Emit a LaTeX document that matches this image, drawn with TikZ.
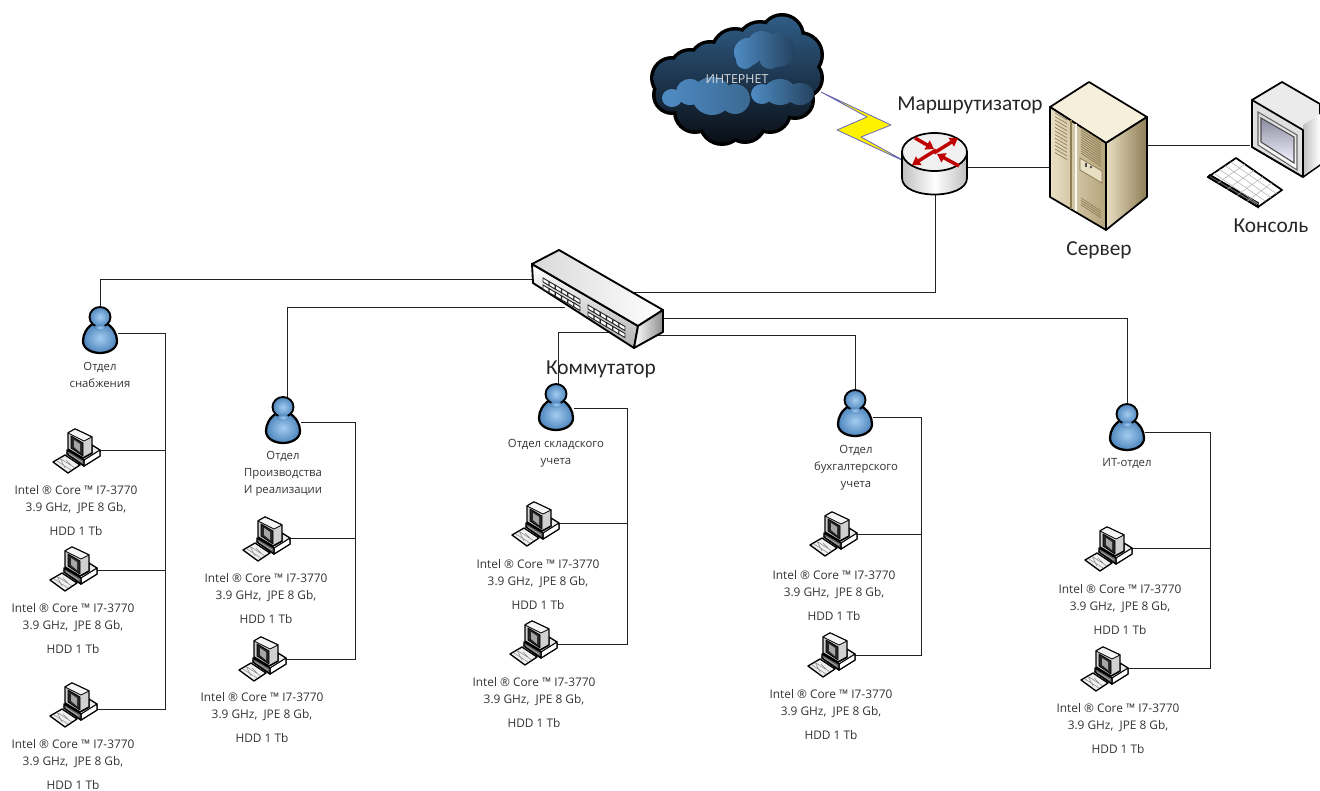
\documentclass[tikz,border=0pt]{standalone}
\usepackage{fontspec}
\setmainfont{Open Sans}
\newfontfamily\bigfont{Carlito}
\usetikzlibrary{arrows.meta}
\definecolor{wire}{HTML}{222222}
\definecolor{txt}{HTML}{333333}
\definecolor{cream}{HTML}{F6EFDC}
\definecolor{tan1}{HTML}{E9DFC3}
\definecolor{tan2}{HTML}{B5A47C}
\definecolor{tan3}{HTML}{8E7D55}
\definecolor{blobhi}{HTML}{4F8CC4}
\definecolor{blobdk}{HTML}{24425F}
\definecolor{cloudtop}{HTML}{2F5C85}
\definecolor{clouddk}{HTML}{0A0F16}
\definecolor{personhi}{HTML}{A3CCF0}
\definecolor{personlo}{HTML}{4F86BD}
\tikzset{
  x=0.75pt,y=-0.75pt,
  wireline/.style={draw=wire,line width=0.65pt},
  anchorbox/.style={inner sep=0pt,minimum width=#1*0.75pt,minimum height=10pt},
  spec/.style={font=\fontsize{8.9}{12.6}\selectfont,text=txt,align=center,anchor=north,inner sep=0pt},
  dept/.style={font=\fontsize{8.5}{12.75}\selectfont,text=txt,align=center,anchor=north,inner sep=0pt},
  biglabel/.style={font=\bigfont\fontsize{16}{18}\selectfont,text=black!85,inner sep=0pt},
  outl/.style={draw=black,line join=round},
  redarrow/.style={draw=red!75!black,line width=2.6pt,-{Triangle[length=6pt,width=7.5pt]}},
  pics/pcicon/.style={code={
    \path[outl,line width=1pt,fill=black!8] (14,24)--(31,36)--(47,26)--(47,20)--(39,15)--(39,23)--(30,28)--(15,20)--cycle;
    \path[outl,line width=.8pt,fill=white] (31,30)--(47,20)--(47,26)--(31,36)--cycle;
    \path[outl,line width=1pt,fill=black!60] (14,20)--(31,30)--(31,36)--(14,24)--cycle;
    \draw[white!70!black,line width=.5pt] (16,24)--(29,32);
    \path[outl,line width=1.1pt,fill=black!18] (15,3)--(22,-1)--(39,7)--(39,23)--(30,28)--(15,19)--cycle;
    \path[outl,line width=.6pt,fill=black!4] (22,-1)--(39,7)--(31,11)--(15,3)--cycle;
    \path[outl,line width=.6pt,fill=black!85] (18,6)--(30,13)--(30,26)--(18,18)--cycle;
    \fill[black!35] (21,10)--(27,14)--(27,22)--(21,17)--cycle;
    \path[outl,line width=1pt,fill=black!6] (0,32)--(12,25)--(27,35)--(15,43)--cycle;
    \draw[black!45,line width=.4pt] (4,31)--(18,40) (8,29)--(22,38) (7,28)--(12,38) (13,30)--(18,35);
  }},
  pics/personicon/.style={code={
    \path[draw=black,line width=1.7pt,inner color=personhi,outer color=personlo,line join=round] (-6,16) .. controls (-13,20) and (-17,27) .. (-17,34) .. controls (-17,42) and (-8,46) .. (0,46) .. controls (8,46) and (17,42) .. (17,34) .. controls (17,27) and (13,20) .. (6,16) -- cycle;
    \path[draw=black,line width=1.4pt,inner color=personhi,outer color=personlo] (0,10) ellipse [x radius=10.5,y radius=10];
    \path[inner color=personhi,outer color=personlo] (0,20.5) ellipse [x radius=6,y radius=3];
  }}
}
\newcommand{\pcunit}[6]{% name, left, top, line y, text x, text y
  \node[anchorbox=45] (#1) at (#2+24,#4) {};
  \pic at (#2,#3) {pcicon};
  \node[spec] (#1t) at (#5,#6-5) {Intel ® Core ™ I7-3770\\3.9 GHz,\ \ JPE 8 Gb,\\[5.5pt]HDD 1 Tb};
}
\newcommand{\cloudlist}{672/78/22,690/70/22,710/62/22,735/52/25,760/45/25,782/36/23,800/55/24,803/78/21,795/100/20,770/112/22,745/122/22,722/122/24,695/112/22,672/95/20,740/85/40,772/75/30}
\begin{document}
\begin{tikzpicture}
\useasboundingbox (0,0) rectangle (1320,791);
% ---- anchor nodes
\node[inner sep=0,minimum width=48.75pt,minimum height=45pt] (router) at (935,165) {};
\node[inner sep=0,minimum width=97.5pt,minimum height=60pt] (switch) at (598,299) {};
\node[inner sep=0,minimum width=73.5pt,minimum height=60pt] (server) at (1099,145) {};
\node[inner sep=0,minimum width=10pt,minimum height=10pt] (console) at (1257,145) {};
\foreach \n/\x/\y in {p1/100/330,p2/283/420,p3/556/407,p4/855/413,p5/1127/427}
  \node[inner sep=0,minimum width=26.25pt,minimum height=34.5pt] (\n) at (\x,\y) {};
\coordinate (sw1) at (532,279);
\coordinate (sw2) at (565,307);
\coordinate (sw3) at (610,332);
\coordinate (sw4) at (650,335);
\coordinate (sw5) at (650,318);
\coordinate (sw6) at (630,292);
\coordinate (b1) at (165,333);
\coordinate (b2) at (355,422);
\coordinate (b3) at (627,408);
\coordinate (b4) at (921,417);
\coordinate (b5) at (1210,432);
% ---- connectors (behind icons)
\draw[wireline] (sw1) -| (p1.north);
\draw[wireline] (sw2) -| (287,400);
\draw[wireline] (sw3) -| (558,385);
\draw[wireline] (sw4) -| (p4.north);
\draw[wireline] (sw5) -| (p5.north);
\draw[wireline] (sw6) -| (router.south);
\draw[wireline] (router.east |- 0,167) -- (server.west |- 0,167);
\draw[wireline] (server.east |- 0,145) -- (console);
% ---- department wiring (behind icons)
\foreach \n/\x/\y in {a1/77/450,a2/74/570,a3/74/709,c1/267/538,c2/263/659,d1/536/523,d2/534/644,e1/834/534,e2/832/655,f1/1109/548,f2/1105/668}
  \node[anchorbox=45] (\n) at (\x,\y) {};
\draw[wireline] (p1.east |- b1) -- (b1) -- (b1 |- a3.east) -- (a3.east);
\draw[wireline] (a1.east) -- (b1 |- a1.east);
\draw[wireline] (a2.east) -- (b1 |- a2.east);
\draw[wireline] (p2.east |- b2) -- (b2) -- (b2 |- c2.east) -- (c2.east);
\draw[wireline] (c1.east) -- (b2 |- c1.east);
\draw[wireline] (p3.east |- b3) -- (b3) -- (b3 |- d2.east) -- (d2.east);
\draw[wireline] (d1.east) -- (b3 |- d1.east);
\draw[wireline] (p4.east |- b4) -- (b4) -- (b4 |- e2.east) -- (e2.east);
\draw[wireline] (e1.east) -- (b4 |- e1.east);
\draw[wireline] (p5.east |- b5) -- (b5) -- (b5 |- f2.east) -- (f2.east);
\draw[wireline] (f1.east) -- (b5 |- f1.east);
% ---- computers + texts
\pcunit{a1t}{53}{430}{450}{76}{490}
\pcunit{a2t}{50}{548}{570}{73}{608}
\pcunit{a3t}{50}{684}{709}{73}{744}
\pcunit{c1t}{243}{518}{538}{266}{578}
\pcunit{c2t}{239}{638}{659}{262}{697}
\pcunit{d1t}{512}{503}{523}{538}{564}
\pcunit{d2t}{510}{622}{644}{534}{682}
\pcunit{e1t}{810}{513}{534}{834}{575}
\pcunit{e2t}{808}{634}{655}{831}{694}
\pcunit{f1t}{1085}{528}{548}{1120}{589}
\pcunit{f2t}{1081}{648}{668}{1118}{708}
% ---- people
\pic at (100,307) {personicon};
\pic at (283,397) {personicon};
\pic at (556,384) {personicon};
\pic at (855,390) {personicon};
\pic at (1127,404) {personicon};
\node[dept] (l1) at (100,362) {Отдел\\снабжения};
\node[dept] (l2) at (283,451) {Отдел\\Производства\\И реализации};
\node[dept] (l3) at (556,439) {Отдел складского\\учета};
\node[dept] (l4) at (856,445) {Отдел\\бухгалтерского\\учета};
\node[dept] (l5) at (1127,458) {ИТ-отдел};
% ---- switch
\path[outl,line width=1.4pt,top color=white,bottom color=black!30] (532,264)--(638,326)--(634,348)--(533,283)--cycle;
\path[outl,line width=1.4pt,left color=black!15,right color=white] (559,250)--(663,310)--(638,326)--(532,264)--cycle;
\path[outl,line width=1.4pt,left color=white,right color=black!45] (638,326)--(663,310)--(663,332)--(634,348)--cycle;
\foreach \i in {0,...,5}{
  \foreach \j in {0,1}{
    \path[draw=black!85,fill=white,line width=.7pt,shift={(546+\i*6.2,280+\i*3.6+\j*7)}] (-3,-2)--(3,1.6)--(3,5.6)--(-3,2)--cycle;
    \path[draw=black!85,fill=white,line width=.7pt,shift={(591+\i*6.2,307+\i*3.6+\j*7)}] (-3,-2)--(3,1.6)--(3,5.6)--(-3,2)--cycle;
  }}
% ---- cloud
\fill[black] \foreach \x/\y/\r in \cloudlist { (\x,\y) circle (\r) };
\shade[top color=cloudtop,bottom color=clouddk] \foreach \x/\y/\r in \cloudlist { (\x,\y) circle ({\r-3.5}) };
\shade[left color=blobhi,right color=blobdk] (748,52) circle (14) (762,46) circle (15) (778,50) circle (17) (770,58) circle (11) (745,60) circle (9);
\shade[left color=blobhi,right color=blobhi!75!black] (672,98) ellipse [x radius=10,y radius=9] (690,92) ellipse [x radius=14,y radius=13] (712,96) ellipse [x radius=20,y radius=19] (735,99) ellipse [x radius=15,y radius=15];
\shade[left color=blobhi,right color=blobdk] (762,94) ellipse [x radius=11,y radius=10] (780,92) ellipse [x radius=16,y radius=13] (800,94) ellipse [x radius=14,y radius=11];
\node[font=\fontsize{9.3}{10}\selectfont,text=white!85!black,inner sep=0pt] (cloud) at (737,79) {ИНТЕРНЕТ};
% ---- lightning
\path[draw=black!45!blue!60,line width=.6pt,fill=yellow,line join=round] (821,92)--(891,125)--(861,137)--(908,163)--(837,130)--(867,117)--cycle;
% ---- router
\path[draw=black,line width=1.3pt,left color=black!25,right color=black!25,middle color=white] (902,152)--(902,178) .. controls (902,200) and (967,200) .. (967,178) --(967,152)--cycle;
\path[draw=black,line width=1.3pt,fill=black!6] (934.5,152) ellipse [x radius=32.5,y radius=19];
\draw[redarrow] (915,138)--(934,149);
\draw[redarrow] (934,153)--(958,138);
\draw[redarrow] (936,150)--(912,165);
\draw[redarrow] (959,166)--(937,154);
% ---- server
\path[outl,line width=1.3pt,fill=cream] (1089,82)--(1147,117)--(1106,143)--(1050,107)--cycle;
\path[outl,line width=1.3pt,left color=tan1,right color=tan2] (1050,107)--(1106,143)--(1106,230)--(1050,197)--cycle;
\path[outl,line width=1.3pt,left color=tan1,right color=tan3] (1106,143)--(1147,117)--(1147,197)--(1106,230)--cycle;
\draw[tan3,line width=1.2pt] (1071,120)--(1071,209);
\draw[white!80!tan1,line width=2pt] (1076,124)--(1076,211);
\foreach \t in {0,...,11}{
  \draw[tan3,line width=.5pt] (1055,113+\t*3.6)--(1067,120+\t*3.6);
  \draw[tan3,line width=.5pt] (1081,128+\t*2.3)--(1101,141+\t*2.3);
}
\foreach \t in {0,...,3}
  \draw[tan3,line width=.5pt] (1081,198+\t*2.3)--(1101,211+\t*2.3);
\path[draw=tan3,line width=.6pt,fill=tan1] (1080,158)--(1102,171)--(1102,183)--(1080,170)--cycle;
\fill[black!70] (1085,163) rectangle (1087,167);
\fill[black!70] (1091,167) circle (1.4);
% ---- console
\path[outl,line width=1.3pt,fill=black!8] (1282,82)--(1320,104)--(1320,165)--(1303,177)--(1252,147)--(1252,100)--cycle;
\path[draw=none,left color=black!25,right color=white] (1303,125)--(1320,114)--(1320,164)--(1303,176)--cycle;
\path[outl,line width=1.3pt,fill=black!12] (1252,100)--(1303,130)--(1303,177)--(1252,147)--cycle;
\path[draw=black!60,line width=.8pt,top color=black!15,bottom color=white] (1258,112)--(1297,135)--(1297,170)--(1258,145)--cycle;
\path[draw=black!70,line width=.8pt,top color=blue!18!black!45,bottom color=blue!5!white] (1261,118)--(1294,137)--(1294,163)--(1261,142)--cycle;
\path[outl,line width=1.3pt,fill=white] (1236,158)--(1282,190)--(1258,207)--(1208,177)--cycle;
\path[draw=black,line width=1.3pt,fill=black!60] (1208,177)--(1258,207)--(1258,203)--(1210,175)--cycle;
\foreach \t in {1,...,4}{
  \draw[black!30,line width=.4pt] (1236-\t*5.5,158+\t*3.8)--(1282-\t*5.5,190+\t*3.8);
  \draw[black!30,line width=.4pt] (1236+\t*9,158+\t*6.2)--(1208+\t*9.6,177+\t*6.2);
}
% ---- labels
\node[biglabel] (routerl) at (970,105) {Маршрутизатор};
\node[biglabel] (serverl) at (1099,250) {Сервер};
\node[biglabel] (consolel) at (1271,226) {Консоль};
\node[biglabel] (switchl) at (601,369) {Коммутатор};
\end{tikzpicture}
\end{document}
